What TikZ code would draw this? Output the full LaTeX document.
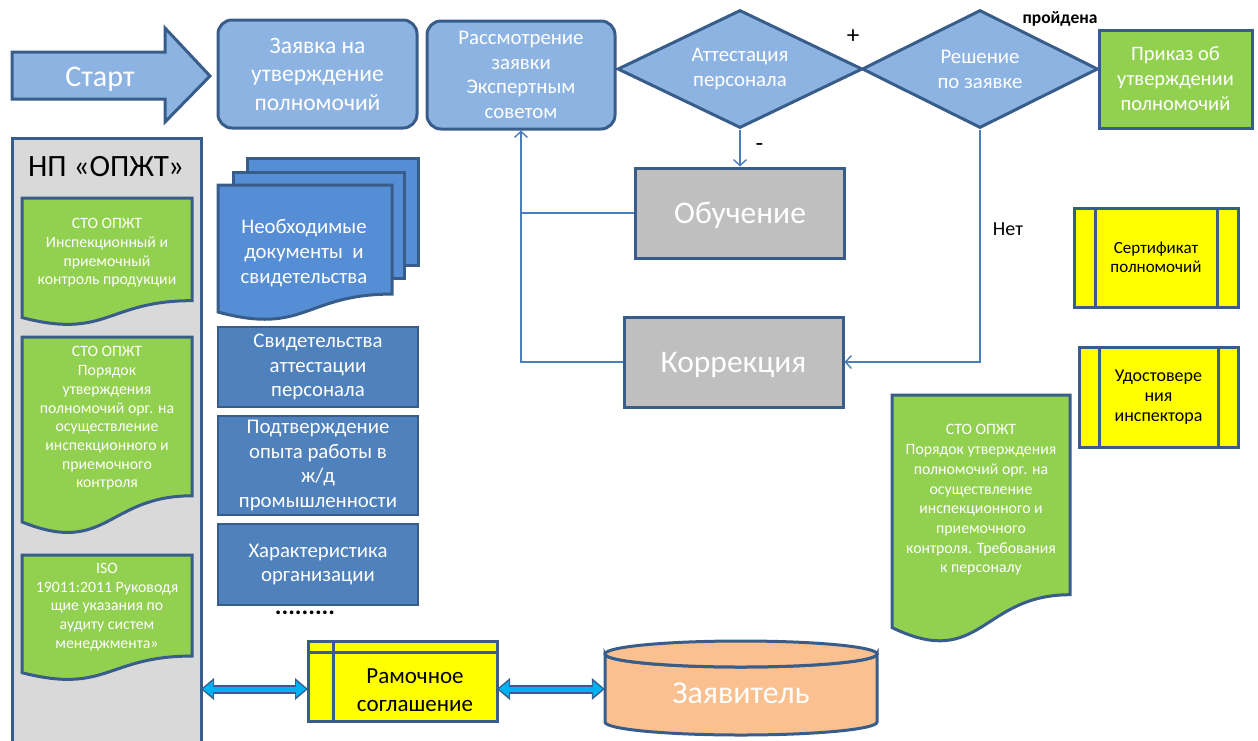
\documentclass[tikz,border=0pt]{standalone}
\usepackage{fontspec}
\setmainfont{Carlito}
\usepackage{tikz}
\usetikzlibrary{arrows.meta,shapes.geometric}
\definecolor{paleblue}{RGB}{141,179,226}
\definecolor{edgeblue}{RGB}{56,93,138}
\definecolor{midblue}{RGB}{79,129,189}
\definecolor{docblue}{RGB}{85,142,213}
\definecolor{linkblue}{RGB}{74,126,187}
\definecolor{stdgreen}{RGB}{146,208,80}
\definecolor{panelgray}{RGB}{217,217,217}
\definecolor{stepgray}{RGB}{191,191,191}
\definecolor{certyellow}{RGB}{255,255,0}
\definecolor{clientorange}{RGB}{250,192,144}
\definecolor{fatcyan}{RGB}{0,176,240}
\newcommand{\fsz}[2]{\fontsize{#1}{#2}\selectfont}
\newcommand{\docpath}[4]{(#1,#2) -- (#3,#2) -- ({#3},{#2+0.802*#4}) .. controls ({(#1+#3)/2},{#2+0.802*#4}) and ({(#1+#3)/2},{#2+1.107*#4}) .. ({#1},{#2+0.934*#4}) -- cycle}

\begin{document}
\begin{tikzpicture}[x=1pt, y=-1pt,
    roundbox/.style={draw=edgeblue, fill=paleblue, line width=3pt, rounded corners=14pt,
                     text=white, align=center, inner sep=0pt},
    decision/.style={diamond, aspect=2, draw=edgeblue, fill=paleblue, line width=3pt,
                     text=white, align=center, inner sep=0pt, font=\fsz{20.8}{25}},
    graybox/.style={draw=edgeblue, fill=stepgray, line width=3pt, text=white,
                    font=\fsz{31.5}{36}, text depth=0pt, minimum height=90pt},
    listbox/.style={draw=edgeblue, fill=midblue, line width=2.5pt, text=white, align=center,
                    font=\fsz{20.8}{24.5}, minimum width=200pt, inner sep=0pt},
    greendoc/.style={draw=edgeblue, fill=stdgreen, line width=3pt},
    bluedoc/.style={draw=edgeblue, fill=docblue, line width=3pt},
    doctext/.style={text=white, align=center, font=\fsz{15.8}{18.7}, inner sep=0pt},
    yellowbox/.style={draw=edgeblue, fill=certyellow, line width=3pt, outer sep=0pt,
                      align=center, font=\fsz{17}{18.5}, inner sep=0pt},
    note/.style={text=black, inner sep=0pt},
    link/.style={-{Straight Barb[length=6pt,width=13pt]}, line width=1.4pt, color=linkblue},
    fatedge/.style={{Triangle[length=13pt,width=22pt,line width=0pt]}-{Triangle[length=13pt,width=22pt,line width=0pt]},
                    line width=9pt, color=edgeblue},
    fatlink/.style={{Triangle[length=10pt,width=16pt,line width=0pt]}-{Triangle[length=10pt,width=16pt,line width=0pt]},
                    line width=5pt, color=fatcyan, shorten <=2pt, shorten >=2pt}
]
\useasboundingbox (0,0) rectangle (1258,740);

\filldraw[draw=edgeblue, fill=paleblue, line width=3pt] (12,52) -- (165,52) -- (165,28) -- (210,76) -- (165,122) -- (165,99) -- (12,99) -- cycle;
\node[anchor=base, text=white, font=\fsz{30}{36}] (start) at (100,86) {Старт};

\node[roundbox, minimum width=199pt, minimum height=108pt, font=\fsz{23.5}{28.5}] (request) at (317.5,74) {Заявка на\\утверждение\\полномочий};
\node[roundbox, minimum width=188pt, minimum height=108pt, font=\fsz{20.8}{24.5}] (review) at (521,75) {Рассмотрение\\заявки\\Экспертным\\советом};
\node[decision, minimum width=245pt, minimum height=118pt] (att) at (740,69) {Аттестация\\персонала};
\node[decision, minimum width=236pt, minimum height=118pt] (dec) at (980,69) {Решение\\по заявке};
\node[draw=edgeblue, fill=stdgreen, line width=3pt, text=white, align=center, font=\fsz{20.5}{25},
      minimum width=153pt, minimum height=98pt, inner sep=0pt] (order) at (1175.5,79) {Приказ об\\утверждении\\полномочий};
\node[note, font=\fsz{25}{28}] (plus) at (853,37) {+};
\node[note, anchor=base, font=\bfseries\fsz{17.5}{20}] (passed) at (1060,23) {пройдена};

\node[graybox, minimum width=209pt] (train) at (740,213) {Обучение};
\node[graybox, minimum width=219pt] (corr) at (733.5,362) {Коррекция};

\draw[link] (att.south) -- node[note, right=15pt, font=\fsz{25}{28}] (minus) {-} (train.north);
\draw[line width=1.4pt, linkblue] (train.west) -- (train.west -| review.south);
\draw[link] (corr.west) -| (review.south);
\draw[link] (dec.south) |- (corr.east);
\node[note, anchor=base, font=\fsz{20}{24}] (no) at (1008,235) {Нет};

\node[draw=edgeblue, fill=panelgray, line width=3pt, anchor=north west, outer sep=0pt, inner sep=0pt,
      minimum width=189pt, minimum height=612pt] (panel) at (12,138) {};
\node[anchor=base, font=\fsz{31}{34}] (npname) at (106,176) {НП «ОПЖТ»};

\filldraw[greendoc] \docpath{22}{198}{192}{128};
\node[doctext] (std1) at (107,253) {СТО ОПЖТ\\Инспекционный и\\приемочный\\контроль продукции};
\filldraw[greendoc] \docpath{22}{337}{192}{198};
\node[doctext] (std2) at (107,418.5) {СТО ОПЖТ\\Порядок\\утверждения\\полномочий орг. на\\осуществление\\инспекционного и\\приемочного\\контроля};
\filldraw[greendoc] \docpath{22}{555}{192}{126};
\node[doctext] (std3) at (107,607) {ISO\\19011:2011 Руководя\\щие указания по\\аудиту систем\\менеджмента»};

\filldraw[bluedoc] (247,158) rectangle (418,265);
\filldraw[bluedoc] (233,172) rectangle (404,278);
\filldraw[bluedoc] \docpath{218}{185}{392}{136};
\node[text=white, align=center, font=\fsz{20.8}{25}] (docs) at (304,253) {Необходимые\\документы\ \ и\\свидетельства};

\node[listbox, minimum height=80pt] (certs) at (318,367) {Свидетельства\\аттестации\\персонала};
\node[listbox, minimum height=99pt] (exp) at (318,465.5) {Подтверждение\\опыта работы в\\ж/д\\промышленности};
\node[listbox, minimum height=81pt] (org) at (318,564.5) {Характеристика\\организации};
\node[note, font=\bfseries\fsz{25}{28}] (more) at (305,613) {.........};

\node[yellowbox, minimum width=164pt, minimum height=99pt] (cert) at (1156,257.5) {Сертификат\\полномочий};
\draw[edgeblue, line width=3pt] ([xshift=21pt]cert.north west) -- ([xshift=21pt]cert.south west)
    ([xshift=-21pt]cert.north east) -- ([xshift=-21pt]cert.south east);
\node[yellowbox, minimum width=159pt, minimum height=100pt, font=\fsz{18}{20}] (ident) at (1158.5,397) {Удостовере\\ния\\инспектора};
\draw[edgeblue, line width=3pt] ([xshift=20pt]ident.north west) -- ([xshift=20pt]ident.south west)
    ([xshift=-20pt]ident.north east) -- ([xshift=-20pt]ident.south east);

\filldraw[greendoc] \docpath{892}{395}{1070}{249};
\node[doctext, font=\fsz{15.8}{19.7}] (stdright) at (981,500) {СТО ОПЖТ\\Порядок утверждения\\полномочий орг. на\\осуществление\\инспекционного и\\приемочного\\контроля. Требования\\к персоналу};

\node[yellowbox, minimum width=189pt, minimum height=80pt] (frame) at (402.5,681) {};
\draw[edgeblue, line width=3pt] ([xshift=25pt]frame.north west) -- ([xshift=25pt]frame.south west)
    ([yshift=-11pt]frame.north west) -- ([yshift=-11pt]frame.north east);
\node[note, align=center, font=\fsz{23}{28}] (frametext) at (415,690) {Рамочное\\соглашение};

\filldraw[draw=edgeblue, fill=clientorange, line width=3pt] (605,654) -- (605,722)
    arc[start angle=180, end angle=0, x radius=136, y radius=13] -- (877,654)
    arc[start angle=0, end angle=180, x radius=136, y radius=13] -- cycle;
\filldraw[draw=edgeblue, fill=clientorange, line width=3pt] (741,654) ellipse[x radius=136, y radius=13];
\node[text=white, font=\fsz{32}{36}, minimum width=272pt, inner sep=0pt] (client) at (741,693) {Заявитель};

\draw[fatedge] ([yshift=-8pt]panel.east |- frame.west) -- ([yshift=-8pt]frame.west);
\draw[fatlink] ([yshift=-8pt]panel.east |- frame.west) -- ([yshift=-8pt]frame.west);
\draw[fatedge] ([yshift=-8pt]frame.east) -- ([yshift=-8pt]frame.east -| client.west);
\draw[fatlink] ([yshift=-8pt]frame.east) -- ([yshift=-8pt]frame.east -| client.west);
\end{tikzpicture}
\end{document}
